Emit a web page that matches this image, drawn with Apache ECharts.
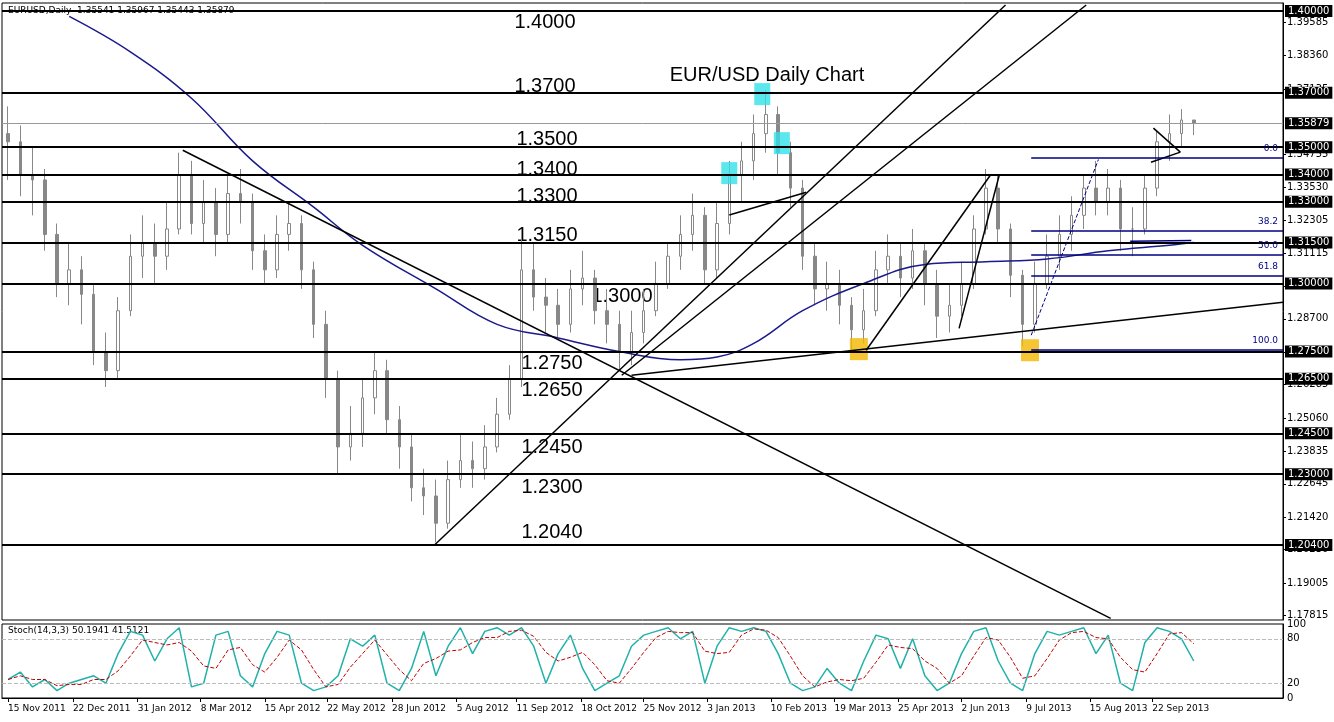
<!DOCTYPE html><html><head><meta charset="utf-8">
<script src="https://cdn.jsdelivr.net/npm/echarts@6/dist/echarts.min.js"></script>
<style>html,body{margin:0;padding:0;background:#fff}#c{width:1334px;height:722px}</style></head><body><div id="c"></div>
<script>
// weekly bars (index = week)
const closes=[1.352,1.340,1.338,1.318,1.300,1.305,1.296,1.275,1.268,1.290,1.310,1.315,1.310,1.320,1.340,1.322,1.330,1.318,1.333,1.330,1.312,1.305,1.318,1.322,1.305,1.285,1.265,1.240,1.245,1.258,1.268,1.250,1.240,1.225,1.222,1.212,1.228,1.235,1.232,1.240,1.252,1.265,1.305,1.295,1.292,1.285,1.298,1.302,1.290,1.285,1.275,1.282,1.290,1.300,1.310,1.318,1.325,1.305,1.322,1.340,1.345,1.355,1.362,1.348,1.335,1.310,1.298,1.300,1.292,1.283,1.290,1.305,1.310,1.302,1.312,1.300,1.288,1.292,1.300,1.320,1.335,1.320,1.303,1.285,1.300,1.310,1.318,1.325,1.335,1.330,1.335,1.320,1.320,1.335,1.352,1.355,1.360,1.35879];
const highs=[1.365,1.358,1.350,1.342,1.322,1.315,1.310,1.300,1.282,1.295,1.318,1.325,1.322,1.330,1.348,1.345,1.338,1.335,1.340,1.342,1.333,1.318,1.325,1.330,1.325,1.308,1.290,1.268,1.255,1.265,1.275,1.272,1.255,1.245,1.232,1.228,1.235,1.245,1.242,1.248,1.258,1.270,1.318,1.315,1.302,1.298,1.305,1.312,1.305,1.298,1.290,1.290,1.298,1.308,1.315,1.325,1.333,1.328,1.330,1.345,1.352,1.362,1.371,1.365,1.352,1.338,1.315,1.308,1.305,1.295,1.298,1.312,1.318,1.315,1.320,1.315,1.305,1.300,1.308,1.325,1.342,1.340,1.322,1.305,1.308,1.318,1.325,1.332,1.340,1.345,1.342,1.338,1.328,1.340,1.356,1.362,1.364,1.35967];
const lows=[1.338,1.332,1.325,1.312,1.295,1.292,1.285,1.270,1.262,1.265,1.288,1.302,1.300,1.305,1.318,1.318,1.315,1.310,1.315,1.322,1.305,1.300,1.302,1.312,1.298,1.280,1.258,1.230,1.235,1.240,1.252,1.245,1.232,1.220,1.215,1.205,1.210,1.225,1.225,1.228,1.238,1.250,1.262,1.290,1.282,1.280,1.282,1.292,1.285,1.278,1.268,1.270,1.278,1.288,1.298,1.305,1.312,1.300,1.302,1.318,1.330,1.338,1.348,1.340,1.328,1.305,1.292,1.290,1.285,1.275,1.278,1.288,1.300,1.295,1.298,1.292,1.280,1.282,1.288,1.298,1.318,1.315,1.295,1.277,1.282,1.298,1.305,1.312,1.320,1.325,1.325,1.312,1.310,1.318,1.332,1.345,1.350,1.35443];
const maPts=[[5,1.398],[10,1.385],[15,1.368],[20,1.345],[25,1.328],[29,1.314],[35,1.298],[40,1.285],[45,1.280],[50,1.275],[55,1.272],[58,1.273],[61,1.278],[65,1.290],[70,1.300],[75,1.307],[80,1.308],[85,1.309],[90,1.312],[95,1.314],[97,1.315]];
const stochK=[25,35,15,25,10,20,25,30,20,60,90,85,50,80,95,15,20,85,90,30,15,60,90,85,20,10,15,30,80,70,85,20,10,40,90,30,70,95,60,90,95,85,95,70,20,60,85,40,10,20,30,70,85,90,95,80,90,20,70,95,90,95,90,60,20,10,15,40,20,10,50,85,80,40,80,30,10,20,60,90,95,50,20,10,60,90,85,90,95,60,85,20,10,75,95,90,80,50];
const levels=[1.4,1.37,1.35,1.34,1.33,1.315,1.30,1.275,1.265,1.245,1.23,1.204];
const axisTicks=[1.39585,1.3836,1.37135,1.34755,1.3353,1.32305,1.31115,1.2989,1.287,1.27475,1.26285,1.2506,1.23835,1.22645,1.2142,1.2023,1.19005,1.17815];
const tickWeeks=[0,5.3,10.6,15.75,21,26.1,31.4,36.7,41.6,46.9,52.0,57.2,62.4,67.6,72.8,78.0,83.3,88.5,93.6];
const tickLabels=['15 Nov 2011','22 Dec 2011','31 Jan 2012','8 Mar 2012','15 Apr 2012','22 May 2012','28 Jun 2012','5 Aug 2012','11 Sep 2012','18 Oct 2012','25 Nov 2012','3 Jan 2013','10 Feb 2013','19 Mar 2013','25 Apr 2013','2 Jun 2013','9 Jul 2013','15 Aug 2013','22 Sep 2013'];
const trendLines=[[[14.29,1.3489],[90.2,1.1771]],[[34.86,1.2039],[81.6,1.4022]],[[50.2,1.2663],[88.2,1.4022]],[[51.0,1.2663],[104.3,1.2931]],[[59.0,1.3251],[65.3,1.3335]],[[70.2,1.2755],[80.4,1.3400]],[[77.8,1.2835],[81.1,1.3400]],[[93.7,1.3570],[95.9,1.3482]],[[93.5,1.3445],[95.9,1.3482]]];
const fib=[['0.0',1.3460],['38.2',1.3192],['50.0',1.3104],['61.8',1.3027],['100.0',1.2755]];
const cyanPts=[[59.0,1.3405],[61.7,1.3695],[63.3,1.3515]];
const yellowPts=[[69.6,1.2759],[83.6,1.2755]];
const levelTexts=[['1.4000',545,22],['1.3700',545,86],['1.3500',547,139],['1.3400',547,169],['1.3300',547,196],['1.3150',547,235],['1.3000',622,296],['1.2750',552,363],['1.2650',552,390],['1.2450',552,447],['1.2300',552,487],['1.2040',552,532]];

const ohlc=closes.map((c,i)=>[i,i?closes[i-1]:1.355,c,lows[i],highs[i]]);
const stochD=stochK.map((v,i)=>{const a=stochK.slice(Math.max(0,i-2),i+1);return a.reduce((s,x)=>s+x,0)/a.length;});
const XMAX=104.3;
const ch=echarts.init(document.getElementById('c'));
const font='Tahoma, "DejaVu Sans", sans-serif';
const lbl=(t)=>({show:true,position:'end',formatter:t,color:'#fff',backgroundColor:'#000',padding:[1,3],fontSize:10,fontFamily:font,distance:2});
const lvlMark=levels.map(v=>[{coord:[-0.5,v],lineStyle:{color:'#000',width:2,type:'solid'}},{coord:[XMAX,v],label:lbl(v.toFixed(5))}]);
lvlMark.push([{coord:[-0.5,1.35879],lineStyle:{color:'#999',width:1,type:'solid'}},{coord:[XMAX,1.35879],label:lbl('1.35879')}]);
const tl=trendLines.map(s=>[{coord:s[0],lineStyle:{color:'#000',width:1.5,type:'solid'}},{coord:s[1]}]);
const fibL=fib.map(f=>[{coord:[83.7,f[1]],lineStyle:{color:'#000080',width:1.5,type:'solid'}},{coord:[XMAX,f[1]],label:{show:true,position:'insideEndTop',formatter:f[0],color:'#000080',fontSize:9,fontFamily:font}}]);
fibL.push([{coord:[83.7,1.2810],lineStyle:{color:'#000080',width:1,type:'dashed'}},{coord:[89.2,1.3455]}]);
fibL.push([{coord:[91.8,1.3155],lineStyle:{color:'#000080',width:1.5,type:'solid'}},{coord:[96.8,1.3158]}]);
ch.setOption({
 animation:false,
 grid:[{left:2,right:51,top:3,height:617},{left:2,right:51,top:624,height:74}],
 xAxis:[
  {gridIndex:0,type:'value',min:-0.5,max:XMAX,axisLine:{show:false},axisTick:{show:false},axisLabel:{show:false},splitLine:{show:false}},
  {gridIndex:1,type:'value',min:-0.5,max:XMAX,axisLine:{onZero:false,lineStyle:{color:'#000'}},axisTick:{show:true,customValues:tickWeeks,length:4,lineStyle:{color:'#000'}},
   axisLabel:{customValues:tickWeeks,hideOverlap:false,formatter:v=>{const k=tickWeeks.findIndex(t=>Math.abs(t-v)<0.01);return k>=0?tickLabels[k]:'';},align:'left',fontSize:9,fontFamily:font,color:'#000',margin:6},splitLine:{show:false}}],
 yAxis:[
  {gridIndex:0,type:'value',position:'right',min:1.17648,max:1.40294,axisLine:{show:true,onZero:false,lineStyle:{color:'#000'}},axisTick:{show:true,customValues:axisTicks,length:3},
   axisLabel:{customValues:axisTicks,formatter:v=>v.toFixed(5),fontSize:10,fontFamily:font,color:'#000',margin:4},splitLine:{show:false}},
  {gridIndex:1,type:'value',position:'right',min:0,max:100,axisLine:{show:true,onZero:false,lineStyle:{color:'#000'}},axisTick:{show:false},
   axisLabel:{customValues:[0,20,80,100],fontSize:10,fontFamily:font,color:'#000',margin:4},splitLine:{show:false}}],
 graphic:[
  {type:'rect',shape:{x:2,y:3,width:1281,height:617},style:{fill:'none',stroke:'#000',lineWidth:1},silent:true},
  {type:'rect',shape:{x:2,y:624,width:1281,height:74},style:{fill:'none',stroke:'#000',lineWidth:1},silent:true},
  {type:'text',left:8,top:6,style:{text:'EURUSD,Daily  1.35541 1.35967 1.35443 1.35879',fontSize:9,fontFamily:font,fill:'#000'}},
  {type:'text',left:8,top:626,style:{text:'Stoch(14,3,3) 50.1941 41.5121',fontSize:9,fontFamily:font,fill:'#000'}},
  {type:'text',x:767,y:75,style:{text:'EUR/USD Daily Chart',fontSize:20,fontFamily:'Arial, "Liberation Sans", sans-serif',fill:'#000',align:'center',verticalAlign:'middle'}},
  ...levelTexts.map(t=>({type:'text',x:t[1],y:t[2],style:{text:t[0],fontSize:20,fontFamily:'Arial, "Liberation Sans", sans-serif',fill:'#000',align:'center',verticalAlign:'middle'}}))
 ],
 series:[
  {type:'candlestick',xAxisIndex:0,yAxisIndex:0,data:ohlc,encode:{x:0,y:[1,2,3,4]},barWidth:3,
   itemStyle:{color:'#fff',color0:'#888',borderColor:'#888',borderColor0:'#888',borderWidth:1}},
  {type:'line',xAxisIndex:0,yAxisIndex:0,data:[],symbol:'none',
   markLine:{silent:true,symbol:'none',data:lvlMark.concat(tl).concat(fibL),label:{show:false}}},
  {type:'line',xAxisIndex:0,yAxisIndex:0,data:maPts,smooth:0.4,symbol:'none',lineStyle:{color:'#1a1a8c',width:1.5}},
  {type:'scatter',xAxisIndex:0,yAxisIndex:0,data:cyanPts,symbol:'rect',symbolSize:[16,22],itemStyle:{color:'#33e0e8'}},
  {type:'scatter',xAxisIndex:0,yAxisIndex:0,data:yellowPts,symbol:'rect',symbolSize:[18,22],itemStyle:{color:'#f2b600'}},
  {type:'line',xAxisIndex:1,yAxisIndex:1,data:stochK.map((v,i)=>[i,v]),symbol:'none',lineStyle:{color:'#20b2aa',width:1.5},
   markLine:{silent:true,symbol:'none',label:{show:false},lineStyle:{color:'#bbb',type:'dashed',width:1},data:[{yAxis:20},{yAxis:80}]}},
  {type:'line',xAxisIndex:1,yAxisIndex:1,data:stochD.map((v,i)=>[i,v]),symbol:'none',lineStyle:{color:'#c00000',width:1,type:'dashed'}}
 ]
});
</script></body></html>
